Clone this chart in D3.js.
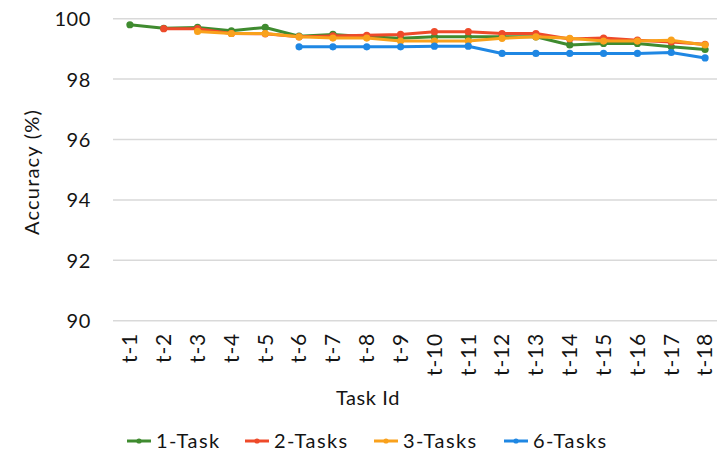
<!DOCTYPE html>
<html>
<head>
<meta charset="utf-8">
<script src="https://cdn.jsdelivr.net/npm/d3@7"></script>
<style>
  html, body { margin: 0; padding: 0; background: #fff; }
  svg { display: block; font-family: "Lato", "Open Sans", sans-serif; }
</style>
</head>
<body>
<svg id="chart" width="717" height="462"></svg>
<script>
// Task ids along the x axis
const tasks = ["t-1","t-2","t-3","t-4","t-5","t-6","t-7","t-8","t-9","t-10",
               "t-11","t-12","t-13","t-14","t-15","t-16","t-17","t-18"];

// Accuracy (%) per task for each training setup (null = not evaluated)
const oneTask = [99.80,99.68,99.71,99.60,99.71,99.42,99.48,99.40,99.35,99.40,
                 99.40,99.40,99.40,99.13,99.18,99.18,99.07,98.98];
const twoTasks = [null,99.67,99.67,99.51,99.50,99.40,99.43,99.45,99.48,99.57,
                  99.57,99.51,99.51,99.33,99.36,99.29,99.23,99.15];
const threeTasks = [null,null,99.58,99.51,99.51,99.40,99.36,99.36,99.26,99.26,
                    99.26,99.35,99.40,99.35,99.26,99.26,99.29,99.13];
const sixTasks = [null,null,null,null,null,99.07,99.07,99.07,99.07,99.09,
                  99.09,98.85,98.85,98.85,98.85,98.85,98.88,98.70];

const seriesNames = ["1-Task","2-Tasks","3-Tasks","6-Tasks"];
const seriesValues = [oneTask, twoTasks, threeTasks, sixTasks];
const seriesColors = ["#3f8b2f","#ee4a2a","#f9a11c","#1f87e3"];

const yTicks = [90, 92, 94, 96, 98, 100];

const textColor = "#141414";
const svg = d3.select("#chart");

const x = d3.scaleBand().domain(tasks).range([113, 722]).padding(0);
const cx = d => x(d) + x.bandwidth() / 2;
const y = d3.scaleLinear().domain([90, 100]).range([320.7, 18.7]);

// Horizontal gridlines
svg.append("g")
  .selectAll("line")
  .data(yTicks)
  .join("line")
  .attr("x1", 113).attr("x2", 722)
  .attr("y1", d => y(d)).attr("y2", d => y(d))
  .attr("stroke", "#d9d9d9")
  .attr("stroke-width", 1.5);

// Y axis tick labels
const yAxis = d3.axisLeft(y).tickValues(yTicks).tickSize(0).tickPadding(0);
const gy = svg.append("g").attr("transform", "translate(91,0)").call(yAxis);
gy.select(".domain").remove();
gy.selectAll("text")
  .attr("font-size", 20)
  .attr("letter-spacing", 0.6)
  .attr("fill", textColor)
  .attr("font-family", "Lato, sans-serif")
  .attr("dy", "0.35em");

// X axis tick labels, rotated
const xAxis = d3.axisBottom(x).tickSize(0).tickPadding(0);
const gx = svg.append("g").attr("transform", "translate(0,333)").call(xAxis);
gx.select(".domain").remove();
gx.selectAll("text")
  .attr("font-size", 21)
  .attr("letter-spacing", 0.8)
  .attr("fill", textColor)
  .attr("font-family", "Lato, sans-serif")
  .attr("text-anchor", "end")
  .attr("transform", "rotate(-90)")
  .attr("x", 0)
  .attr("y", 0)
  .attr("dy", "0.35em");

// Axis titles
svg.append("text")
  .attr("transform", "translate(39,172) rotate(-90)")
  .attr("text-anchor", "middle")
  .attr("font-size", 20)
  .attr("letter-spacing", 1.2)
  .attr("fill", textColor)
  .text("Accuracy (%)");

svg.append("text")
  .attr("x", 368).attr("y", 405)
  .attr("text-anchor", "middle")
  .attr("font-size", 20)
  .attr("letter-spacing", 0.6)
  .attr("fill", textColor)
  .text("Task Id");

// Series lines and markers
const line = d3.line()
  .defined(d => d.v !== null)
  .x(d => cx(d.t))
  .y(d => y(d.v));

seriesValues.forEach((vals, i) => {
  const pts = tasks.map((t, j) => ({ t, v: vals[j] }));
  const g = svg.append("g");
  g.append("path")
    .datum(pts)
    .attr("d", line)
    .attr("fill", "none")
    .attr("stroke", seriesColors[i])
    .attr("stroke-width", 3)
    .attr("stroke-linejoin", "round");
  g.selectAll("circle")
    .data(pts.filter(d => d.v !== null))
    .join("circle")
    .attr("cx", d => cx(d.t))
    .attr("cy", d => y(d.v))
    .attr("r", 3.6)
    .attr("fill", seriesColors[i]);
});

// Legend
const legendTextX = [156, 274, 403, 533];
const legend = svg.append("g");
seriesNames.forEach((name, i) => {
  const g = legend.append("g").attr("transform", `translate(${legendTextX[i]},441)`);
  g.append("line")
    .attr("x1", -29).attr("x2", -5)
    .attr("y1", 0).attr("y2", 0)
    .attr("stroke", seriesColors[i])
    .attr("stroke-width", 3);
  g.append("circle").attr("cx", -17).attr("cy", 0).attr("r", 2.6).attr("fill", seriesColors[i]);
  g.append("text")
    .attr("x", 0).attr("y", 0).attr("dy", "0.35em")
    .attr("font-size", 20)
    .attr("letter-spacing", 1.4)
    .attr("fill", textColor)
    .text(name);
});
</script>
</body>
</html>
